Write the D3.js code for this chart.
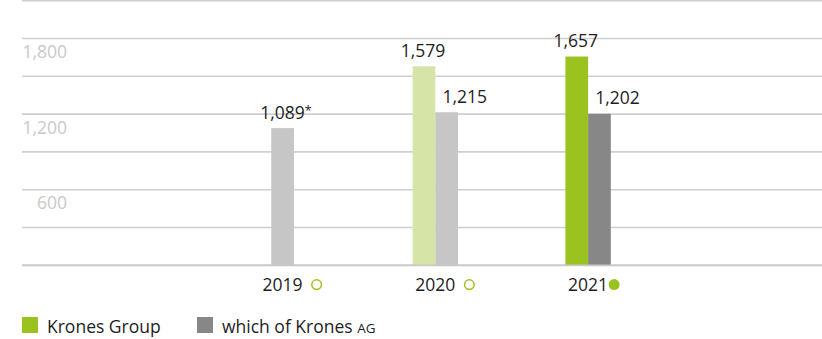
<!DOCTYPE html>
<html>
<head>
<meta charset="utf-8">
<script src="https://cdn.jsdelivr.net/npm/d3@7"></script>
<style>
  html, body { margin: 0; padding: 0; background: #fff; }
  svg { display: block; font-family: "Open Sans", sans-serif; }
</style>
</head>
<body>
<svg id="chart" width="822" height="339"></svg>
<script>
const years = ["2019", "2020", "2021"];
const groupValues = [null, 1579, 1657];
const agValues = [1089, 1215, 1202];
const valueSuffix = ["*", "", ""];
const yearMarkerFilled = [false, false, true];
const yTicks = [0, 300, 600, 900, 1200, 1500, 1800, 2100];
const yTickLabels = [600, 1200, 1800];
const seriesNames = ["Krones Group", "which of Krones AG"];

const groupColors = ["#d6e4a7", "#d6e4a7", "#9bc31f"];
const agColors = ["#c6c6c6", "#c6c6c6", "#878787"];
const green = "#9bc31f";

const svg = d3.select("#chart");
const fmt = d3.format(",");

const y = d3.scaleLinear().domain([0, 2100]).range([265.3, 0.7]);
const x = d3.scaleBand().domain(years).range([206.2, 664.5]);
const bw = 22.7;
const fs = 17.5;

// gridlines
svg.append("g").selectAll("line").data(yTicks).join("line")
  .attr("x1", 22).attr("x2", 822)
  .attr("y1", d => y(d)).attr("y2", d => y(d))
  .attr("stroke", "#cfcfcf").attr("stroke-width", 1.6);

// y tick labels (below line)
svg.append("g").selectAll("text").data(yTickLabels).join("text")
  .attr("x", 67).attr("y", d => y(d) + 19.4)
  .attr("text-anchor", "end")
  .attr("fill", "#c9c9c9").attr("font-size", 17.5)
  .text(d => fmt(d));

const data = years.map((yr, i) => ({ yr, i, g: groupValues[i], a: agValues[i] }));

// bars
const gBars = svg.append("g");
data.forEach(d => {
  const c = x(d.yr) + x.bandwidth() / 2;
  if (d.g != null) {
    gBars.append("rect")
      .attr("x", c - bw).attr("width", bw)
      .attr("y", y(d.g)).attr("height", y(0) - y(d.g))
      .attr("fill", groupColors[d.i]);
    gBars.append("text")
      .attr("x", c - bw / 2 - 1).attr("y", y(d.g) - 9.5)
      .attr("text-anchor", "middle").attr("font-size", fs).attr("fill", "#1e1e1e")
      .text(fmt(d.g));
  }
  const ax = d.g != null ? c : c - bw / 2;
  gBars.append("rect")
    .attr("x", ax).attr("width", bw)
    .attr("y", y(d.a)).attr("height", y(0) - y(d.a))
    .attr("fill", agColors[d.i]);
  const lx = d.g != null ? ax + bw / 2 + 18 : ax + bw / 2;
  const t = gBars.append("text")
    .attr("x", lx).attr("y", y(d.a) - 9.5)
    .attr("text-anchor", "middle").attr("font-size", fs).attr("fill", "#1e1e1e");
  if (valueSuffix[d.i]) {
    t.attr("text-anchor", "start");
    t.text(fmt(d.a));
    const w = t.node().getComputedTextLength();
    t.attr("x", lx - w / 2);
    t.append("tspan").attr("font-size", 12.5).attr("dy", -4).text(valueSuffix[d.i]);
  } else {
    t.text(fmt(d.a));
  }
});

// baseline
svg.append("line").attr("x1", 22).attr("x2", 822)
  .attr("y1", y(0)).attr("y2", y(0)).attr("stroke", "#c8c8c8").attr("stroke-width", 1.8);

// x labels with markers
const gx = svg.append("g");
data.forEach(d => {
  const c = x(d.yr) + x.bandwidth() / 2;
  const t = gx.append("text").attr("x", c).attr("y", 290.8)
    .attr("text-anchor", "middle").attr("font-size", fs).attr("fill", "#1e1e1e")
    .text(d.yr);
  const w = t.node().getComputedTextLength();
  const filled = yearMarkerFilled[d.i];
  const cx = c + w / 2 + (filled ? 6 : 14);
  gx.append("circle").attr("cx", cx).attr("cy", 284.6)
    .attr("r", filled ? 5.5 : 4.8)
    .attr("fill", filled ? green : "none")
    .attr("stroke", green).attr("stroke-width", filled ? 0 : 1.5);
});

// legend
const legend = svg.append("g");
const legendColors = [green, "#878787"];
const legendX = [22, 197];
seriesNames.forEach((n, i) => {
  legend.append("rect").attr("x", legendX[i]).attr("y", 317).attr("width", 16).attr("height", 16)
    .attr("fill", legendColors[i]);
  const t = legend.append("text").attr("x", legendX[i] + 25).attr("y", 332.5)
    .attr("font-size", fs).attr("fill", "#1e1e1e");
  if (n.endsWith(" AG")) {
    t.text(n.slice(0, -2));
    t.append("tspan").attr("font-size", 13.5).text("AG");
  } else {
    t.text(n);
  }
});
</script>
</body>
</html>
